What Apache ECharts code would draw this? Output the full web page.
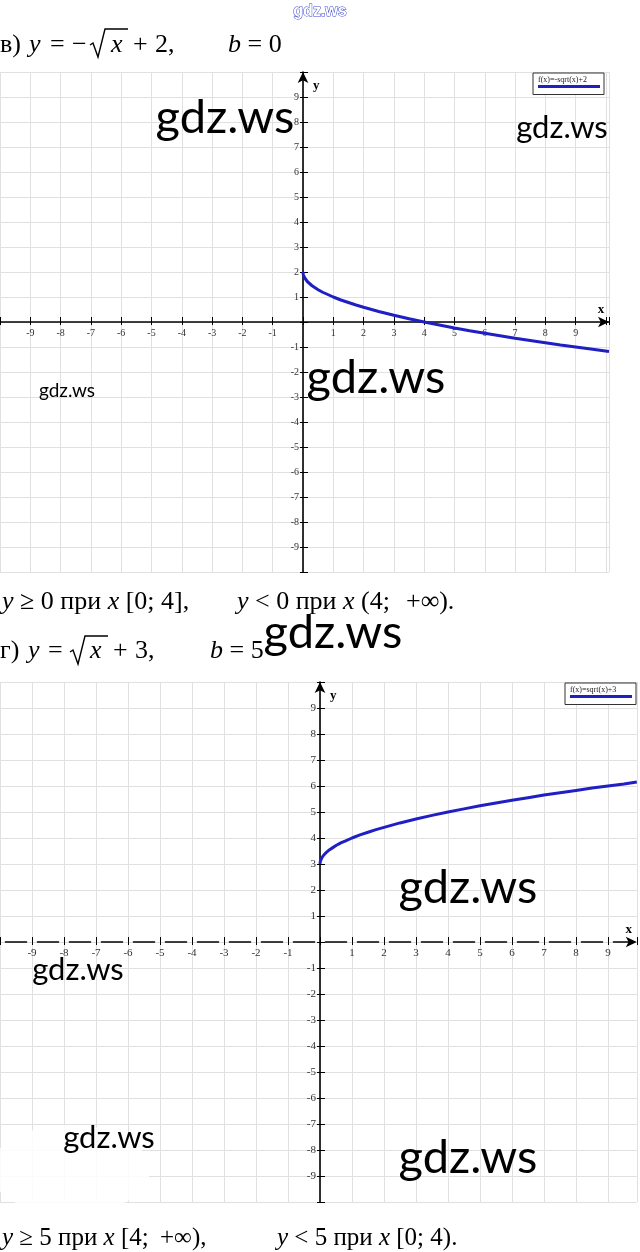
<!DOCTYPE html>
<html><head><meta charset="utf-8">
<script src="https://cdn.jsdelivr.net/npm/echarts@6/dist/echarts.min.js"></script>
<style>html,body{margin:0;padding:0;background:#fff}#c{width:640px;height:1252px}</style>
</head><body><div id="c"></div>
<script>
// ---- data ----
const tickLabels = [-9,-8,-7,-6,-5,-4,-3,-2,-1,1,2,3,4,5,6,7,8,9];
const name1 = 'f(x)=-sqrt(x)+2';
const name2 = 'f(x)=sqrt(x)+3';
const curve1X = [0, 0.01, 0.03, 0.06, 0.1, 0.15, 0.2, 0.3, 0.4, 0.5, 0.65, 0.8, 1, 1.25, 1.5, 1.75, 2, 2.5, 3, 3.5, 4, 4.5, 5, 5.5, 6, 6.5, 7, 7.5, 8, 8.5, 9, 9.5, 10.1];
const curve1Y = [2, 1.9, 1.83, 1.76, 1.68, 1.61, 1.55, 1.45, 1.37, 1.29, 1.19, 1.11, 1, 0.88, 0.78, 0.68, 0.59, 0.42, 0.27, 0.13, 0, -0.12, -0.24, -0.35, -0.45, -0.55, -0.65, -0.74, -0.83, -0.92, -1, -1.08, -1.18];
const curve2X = [0, 0.01, 0.03, 0.06, 0.1, 0.15, 0.2, 0.3, 0.4, 0.5, 0.65, 0.8, 1, 1.25, 1.5, 1.75, 2, 2.5, 3, 3.5, 4, 4.5, 5, 5.5, 6, 6.5, 7, 7.5, 8, 8.5, 9, 9.5, 9.9];
const curve2Y = [3, 3.1, 3.17, 3.24, 3.32, 3.39, 3.45, 3.55, 3.63, 3.71, 3.81, 3.89, 4, 4.12, 4.22, 4.32, 4.41, 4.58, 4.73, 4.87, 5, 5.12, 5.24, 5.35, 5.45, 5.55, 5.65, 5.74, 5.83, 5.92, 6, 6.08, 6.15];

const SERIF = '"Liberation Serif","Times New Roman",serif';
const WM = 'Lato, "Open Sans", sans-serif';
const BLUE = '#1f1fc4';

function lbl(v){ return tickLabels.indexOf(v) >= 0 ? String(v) : ''; }

// g: grid index, xr/yr: axis ranges, xo/yo: pixel offsets that put each axis through the origin
function axesFor(g, xr, yr, xo, yo, font, dashed){
  const xa = [{
    type:'value', gridIndex:g, min:xr[0], max:xr[1], interval:1, position:'bottom', offset:xo,
    name:'x', nameLocation:'end', nameGap:-8,
    nameTextStyle:{fontFamily:SERIF, fontWeight:'bold', fontSize:13, color:'#000', align:'center', verticalAlign:'bottom', padding:[0,0,6,0]},
    axisLine:{onZero:false, symbol:['none','arrow'], symbolSize:[8,11],
      lineStyle: dashed ? {color:'#000', width:1.6, type:[21,11], dashOffset:26.5} : {color:'#000', width:1.6}},
    axisTick:{show:true, inside:true, length:5, lineStyle:{color:'#000', width:1}},
    axisLabel:{formatter:lbl, fontFamily:SERIF, fontSize:font, color:'#333', margin:6},
    splitLine:{show:true, lineStyle:{color:'#e0e0e0', width:1}}
  },{
    type:'value', gridIndex:g, min:xr[0], max:xr[1], interval:1, position:'bottom', offset:xo,
    axisLine:{show:false, onZero:false},
    axisTick:{show:true, inside:false, length:3, lineStyle:{color:'#000', width:1}},
    axisLabel:{show:false}, splitLine:{show:false}
  }];
  const ya = [{
    type:'value', gridIndex:g, min:yr[0], max:yr[1], interval:1, position:'left', offset:yo,
    name:'y', nameLocation:'end', nameGap:-14,
    nameTextStyle:{fontFamily:SERIF, fontWeight:'bold', fontSize:13, color:'#000', align:'left', verticalAlign:'middle', padding:[0,0,0,10]},
    axisLine:{onZero:false, symbol:['none','arrow'], symbolSize:[8,11], lineStyle:{color:'#000', width:1.6}},
    axisTick:{show:true, inside:true, length:5, lineStyle:{color:'#000', width:1}},
    axisLabel:{formatter:lbl, fontFamily:SERIF, fontSize:font, color:'#333', margin:4},
    splitLine:{show:true, lineStyle:{color:'#e0e0e0', width:1}}
  },{
    type:'value', gridIndex:g, min:yr[0], max:yr[1], interval:1, position:'left', offset:yo,
    axisLine:{show:false, onZero:false},
    axisTick:{show:true, inside:false, length:3, lineStyle:{color:'#000', width:1}},
    axisLabel:{show:false}, splitLine:{show:false}
  }];
  return {xa, ya};
}

const a1 = axesFor(0, [-10, 10.1], [-10, 10], -250, -303, 10, false);
const a2 = axesFor(1, [-10, 9.9], [-10, 10], -260, -320, 11, true);

function zip(xs, ys){ return xs.map((x,i)=>[x, ys[i]]); }

function legendFor(name, left, top){
  return {
    left, top, data:[name], orient:'horizontal',
    itemWidth:0, itemHeight:0, icon:'rect',
    padding:[3,4,2,0], borderColor:'#333', borderWidth:1, backgroundColor:'#fff',
    selectedMode:false,
    formatter: n => '{t|' + n + '}\n{l|}',
    textStyle:{rich:{
      t:{fontFamily:SERIF, fontSize:8, color:'#222', lineHeight:10},
      l:{width:62, height:3, backgroundColor:BLUE}
    }}
  };
}

function txt(x, y, s, size){
  return {type:'text', x, y, z:100, style:{
    text:s, fontFamily:SERIF, fontSize:size||26, fill:'#000', align:'left', verticalAlign:'middle',
    rich:{i:{fontStyle:'italic', fontFamily:SERIF, fontSize:size||26, fill:'#000'}}
  }};
}
function wm(cx, cy, size){
  return {type:'text', x:cx, y:cy, z:120, style:{text:'gdz.ws', fontFamily:WM, fontSize:size, fill:'#000', align:'center', verticalAlign:'middle'}};
}
function radical(pts){
  return {type:'polyline', z:100, shape:{points:pts}, style:{stroke:'#000', lineWidth:1.4, fill:null, lineJoin:'miter'}};
}

const chart = echarts.init(document.getElementById('c'), null, {renderer:'canvas'});
chart.setOption({
  animation:false,
  backgroundColor:'#fff',
  grid:[
    {left:0, top:72, width:609, height:500, outerBoundsMode:'none', containLabel:false},
    {left:0, top:682, width:636.8, height:520, outerBoundsMode:'none', containLabel:false}
  ],
  xAxis: a1.xa.concat(a2.xa),
  yAxis: a1.ya.concat(a2.ya),
  legend:[legendFor(name1, 533, 73), legendFor(name2, 565, 683)],
  series:[
    {name:name1, type:'line', xAxisIndex:0, yAxisIndex:0, data:zip(curve1X, curve1Y), showSymbol:false, smooth:false, lineStyle:{color:BLUE, width:3}, itemStyle:{color:BLUE}, z:5},
    {name:name2, type:'line', xAxisIndex:2, yAxisIndex:2, data:zip(curve2X, curve2Y), showSymbol:false, smooth:false, lineStyle:{color:BLUE, width:3}, itemStyle:{color:BLUE}, z:5}
  ],
  graphic:[
    {type:'ellipse', z:50, shape:{cx:70, cy:1170, rx:80, ry:45}, style:{fill:'#fff', opacity:0.85}},
    {type:'text', x:320, y:12, z:100, style:{text:'gdz.ws', fontFamily:'"Liberation Sans",sans-serif', fontWeight:'bold', fontSize:16, fill:'#fff', stroke:'#3b46d0', lineWidth:1, align:'center', verticalAlign:'middle'}},
    // row 1
    txt(0, 45, 'в)'), txt(29, 45, '{i|y}'), txt(50, 45, '='), txt(72, 45, '−'),
    radical([[90,45],[93,43],[98,57],[105,29],[128,29]]),
    txt(111, 45, '{i|x}'), txt(133, 45, '+'), txt(155, 45, '2,'),
    txt(228, 45, '{i|b} = 0'),
    // row 3
    txt(2, 602, '{i|y} ≥ 0 при {i|x} [0; 4],'),
    txt(237, 602, '{i|y} < 0 при {i|x} (4;'), txt(406, 602, '+∞).'),
    // row 4
    txt(0, 651, 'г)'), txt(28, 651, '{i|y}'), txt(48, 651, '='),
    radical([[70,652],[73,650],[78,664],[85,636],[108,636]]),
    txt(90, 651, '{i|x}'), txt(113, 651, '+'), txt(135, 651, '3,'),
    txt(210, 651, '{i|b} = 5'),
    // row 5
    txt(2, 1238, '{i|y} ≥ 5 при {i|x} [4;', 25), txt(160, 1238, '+∞),', 25),
    txt(277, 1238, '{i|y} < 5 при {i|x} [0; 4).', 25),
    // watermarks
    wm(225, 118, 47),
    wm(562, 128, 31),
    wm(67, 391, 19),
    wm(376, 378, 47),
    wm(333, 633, 47),
    wm(468, 888, 47),
    wm(78, 970, 31),
    wm(109, 1138, 31),
    wm(468, 1158, 47)
  ]
});
</script>
</body></html>
